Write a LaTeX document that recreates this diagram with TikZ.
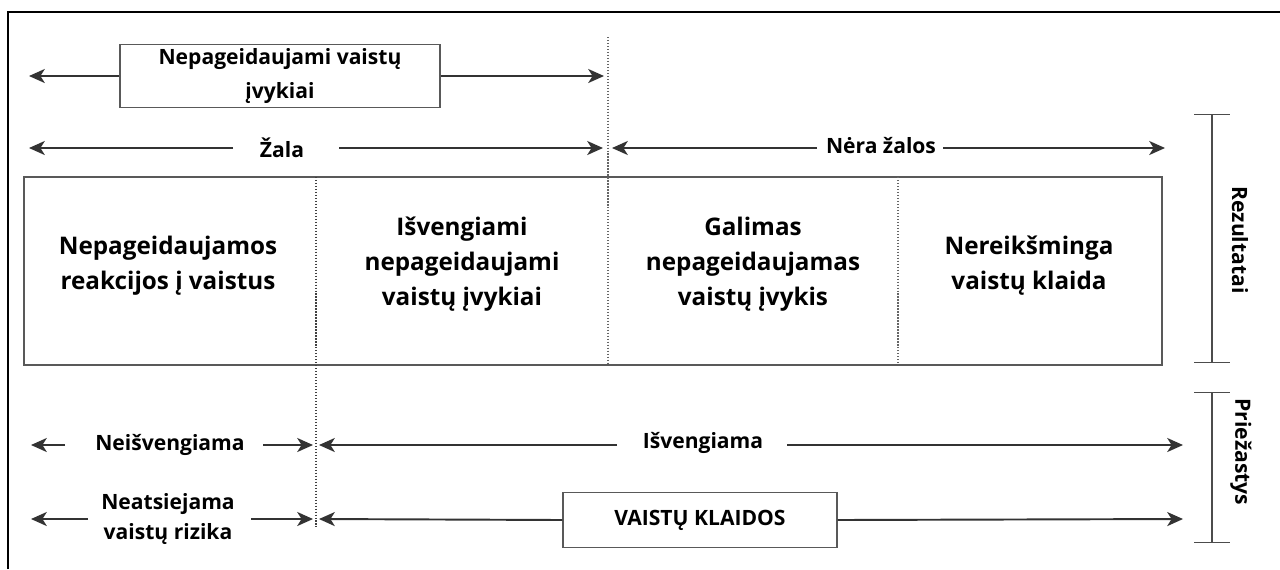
\documentclass[tikz,border=0pt]{standalone}
\usepackage{fontspec}
\setmainfont{Open Sans}
\usetikzlibrary{arrows.meta}

\begin{document}
\begin{tikzpicture}[x=0.02cm,y=-0.02cm,
            lbl/.style={font=\bfseries\fontsize{12}{19}\selectfont, align=center, inner sep=0pt},
            cell/.style={font=\bfseries\fontsize{13.8}{19.8}\selectfont, align=center, inner sep=0pt},
            box/.style={draw=black!65, line width=0.8pt},
            arr/.style={-{Stealth[length=9pt,width=8pt,inset=2.5pt]}, draw=black!80, line width=1.1pt},
            dots/.style={densely dotted, draw=black!60, line width=0.7pt}]
            \useasboundingbox (0,0) rectangle (1280,569);
            % frame
            \draw [black, line width=1.2pt] (8,569) -- (8,12) -- (1280,12);
            % top row
            \node [box, lbl, minimum width=320*0.02cm, minimum height=63*0.02cm] (nvi) at (280,76) {Nepageidaujami vaistų\\įvykiai};
            \coordinate (nviL) at (29,76);
            \coordinate (nviR) at (604,76);
            \draw [arr] (nvi.west) -- (nviL);
            \draw [arr] (nvi.east) -- (nviR);
            % harm row
            \node [lbl] (zala) at (282,148) {Žala};
            \coordinate (zalaL) at (29,148);
            \coordinate (zalaLt) at (233,148);
            \coordinate (zalaRt) at (339,148);
            \coordinate (zalaR) at (603,148);
            \draw [arr] (zalaLt) -- (zalaL);
            \draw [arr] (zalaRt) -- (zalaR);
            \node [lbl] (nera) at (881,146) {Nėra žalos};
            \coordinate (neraL) at (612,148);
            \coordinate (neraLt) at (817,148);
            \coordinate (neraRt) at (943,148);
            \coordinate (neraR) at (1165,148);
            \draw [arr] (neraLt) -- (neraL);
            \draw [arr] (neraRt) -- (neraR);
            % outcome box
            \node [box, minimum width=1138*0.02cm, minimum height=188*0.02cm, inner sep=0pt] (rez) at (593,271) {};
            \coordinate (d1t) at (316,177);
            \coordinate (d1b) at (316,527);
            \coordinate (d2t) at (608,37);
            \coordinate (d2b) at (608,365);
            \coordinate (d3t) at (898,177);
            \coordinate (d3b) at (898,365);
            \draw [dots, draw=black!75] (d1t) -- (d1b);
            \draw [dots] (d2t) -- (d2b);
            \draw [dots] (d3t) -- (d3b);
            \node [cell] (nrv) at (168,266) {Nepageidaujamos\\reakcijos į vaistus};
            \node [cell] (inv) at (462,264) {Išvengiami\\nepageidaujami\\vaistų įvykiai};
            \node [cell] (gnv) at (753,264) {Galimas\\nepageidaujamas\\vaistų įvykis};
            \node [cell] (nvk) at (1029,266) {Nereikšminga\\vaistų klaida};
            % brackets
            \coordinate (b1t) at (1212,114);
            \coordinate (b1b) at (1212,363);
            \coordinate (b2t) at (1212,392);
            \coordinate (b2b) at (1212,543);
            \draw [{Bar[width=20pt]}-{Bar[width=20pt]}, draw=black!70, line width=0.8pt] (b1t) -- (b1b);
            \draw [{Bar[width=20pt]}-{Bar[width=20pt]}, draw=black!70, line width=0.8pt] (b2t) -- (b2b);
            \node [lbl, rotate=-90] (rezl) at (1240,240) {Rezultatai};
            \node [lbl, rotate=-90] (prie) at (1241,452) {Priežastys};
            % causes
            \node [lbl] (neisv) at (170,445) {Neišvengiama};
            \coordinate (neisvL) at (31,445);
            \coordinate (neisvLt) at (65,445);
            \coordinate (neisvRt) at (263,445);
            \coordinate (neisvR) at (313,445);
            \draw [arr] (neisvLt) -- (neisvL);
            \draw [arr] (neisvRt) -- (neisvR);
            \node [lbl] (isv) at (703,443) {Išvengiama};
            \coordinate (isvL) at (319,445);
            \coordinate (isvLt) at (617,445);
            \coordinate (isvRt) at (787,445);
            \coordinate (isvR) at (1183,445);
            \draw [arr] (isvLt) -- (isvL);
            \draw [arr] (isvRt) -- (isvR);
            \node [lbl, font=\bfseries\fontsize{12}{17}\selectfont] (rizika) at (168,519) {Neatsiejama\\vaistų rizika};
            \coordinate (rizL) at (31,519);
            \coordinate (rizLt) at (88,519);
            \coordinate (rizRt) at (251,519);
            \coordinate (rizR) at (313,519);
            \draw [arr] (rizLt) -- (rizL);
            \draw [arr] (rizRt) -- (rizR);
            \node [box, lbl, minimum width=274*0.02cm, minimum height=55*0.02cm] (klaidos) at (700,520) {VAISTŲ KLAIDOS};
            \coordinate (klL) at (319,519);
            \coordinate (klR) at (1183,519);
            \draw [arr] (klaidos.west) -- (klL);
            \draw [arr] (klaidos.east) -- (klR);
\end{tikzpicture}
\end{document}
